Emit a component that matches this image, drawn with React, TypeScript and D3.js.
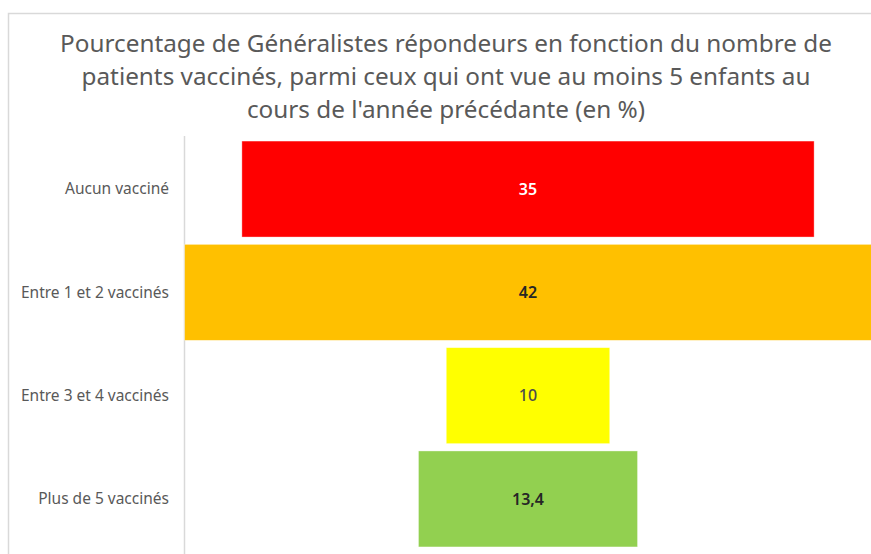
import React, { useEffect, useRef } from 'react'
import * as d3 from 'd3'

const categories = ['Aucun vacciné', 'Entre 1 et 2 vaccinés', 'Entre 3 et 4 vaccinés', 'Plus de 5 vaccinés']
const values = [35, 42, 10, 13.4]
const colors = ['#ff0000', '#ffc000', '#ffff00', '#92d050']
const labelColors = ['#ffffff', '#262626', '#4d4d4d', '#262626']
const titleLines = [
  'Pourcentage de Généralistes répondeurs en fonction du nombre de',
  'patients vaccinés, parmi ceux qui ont vue au moins 5 enfants au',
  "cours de l'année précédante (en %)"
]

const W = 871
const H = 554

export default function App() {
  const ref = useRef<SVGSVGElement | null>(null)

  useEffect(() => {
    const svg = d3.select(ref.current)
    svg.selectAll('*').remove()

    const font = "'Noto Sans', 'Open Sans', sans-serif"
    const cx = 528

    // chart frame (cropped on the right and bottom)
    svg.append('rect').attr('width', W).attr('height', H).attr('fill', '#fff')
    svg.append('rect')
      .attr('x', 8.5).attr('y', 13.5)
      .attr('width', W + 20).attr('height', H + 20)
      .attr('fill', 'none').attr('stroke', '#d9d9d9').attr('stroke-width', 1.5)

    // title
    svg.append('g')
      .selectAll('text')
      .data(titleLines)
      .enter()
      .append('text')
      .attr('x', 446)
      .attr('y', (d, i) => 52 + i * 33)
      .attr('text-anchor', 'middle')
      .attr('font-family', font)
      .attr('font-size', 24.3)
      .attr('fill', '#595959')
      .text(d => d)

    const y = d3.scaleBand<string>()
      .domain(categories)
      .range([137.4, 550.6])
      .paddingInner(0.0707)
      .paddingOuter(0.0354)

    const w = d3.scaleLinear()
      .domain([0, d3.max(values) as number])
      .range([0, 686.7])

    // vertical axis line
    svg.append('line')
      .attr('x1', 184.5).attr('x2', 184.5)
      .attr('y1', 136).attr('y2', H)
      .attr('stroke', '#d9d9d9').attr('stroke-width', 1.5)

    const data = categories.map((c, i) => ({ c, v: values[i], i }))

    svg.append('g')
      .selectAll('rect')
      .data(data)
      .enter()
      .append('rect')
      .attr('x', d => cx - w(d.v) / 2)
      .attr('y', d => y(d.c) as number)
      .attr('width', d => w(d.v))
      .attr('height', y.bandwidth())
      .attr('fill', d => colors[d.i])
      .attr('stroke', '#ffffff')
      .attr('stroke-opacity', 0.5)
      .attr('stroke-width', 0.75)

    // value labels
    svg.append('g')
      .selectAll('text')
      .data(data)
      .enter()
      .append('text')
      .attr('x', cx)
      .attr('y', d => (y(d.c) as number) + y.bandwidth() / 2)
      .attr('dy', '0.35em')
      .attr('text-anchor', 'middle')
      .attr('font-family', font)
      .attr('font-size', 16)
      .attr('font-weight', d => (d.i === 2 ? 500 : 600))
      .attr('fill', d => labelColors[d.i])
      .text(d => String(d.v).replace('.', ','))

    // category labels
    svg.append('g')
      .selectAll('text')
      .data(data)
      .enter()
      .append('text')
      .attr('x', 169)
      .attr('y', d => (y(d.c) as number) + y.bandwidth() / 2)
      .attr('dy', '0.35em')
      .attr('text-anchor', 'end')
      .attr('font-family', font)
      .attr('font-size', 15.5)
      .attr('fill', '#595959')
      .text(d => d.c)
  }, [])

  return (
    <svg
      ref={ref}
      width={W}
      height={H}
      style={{ position: 'absolute', left: 0, top: 0 }}
    />
  )
}
